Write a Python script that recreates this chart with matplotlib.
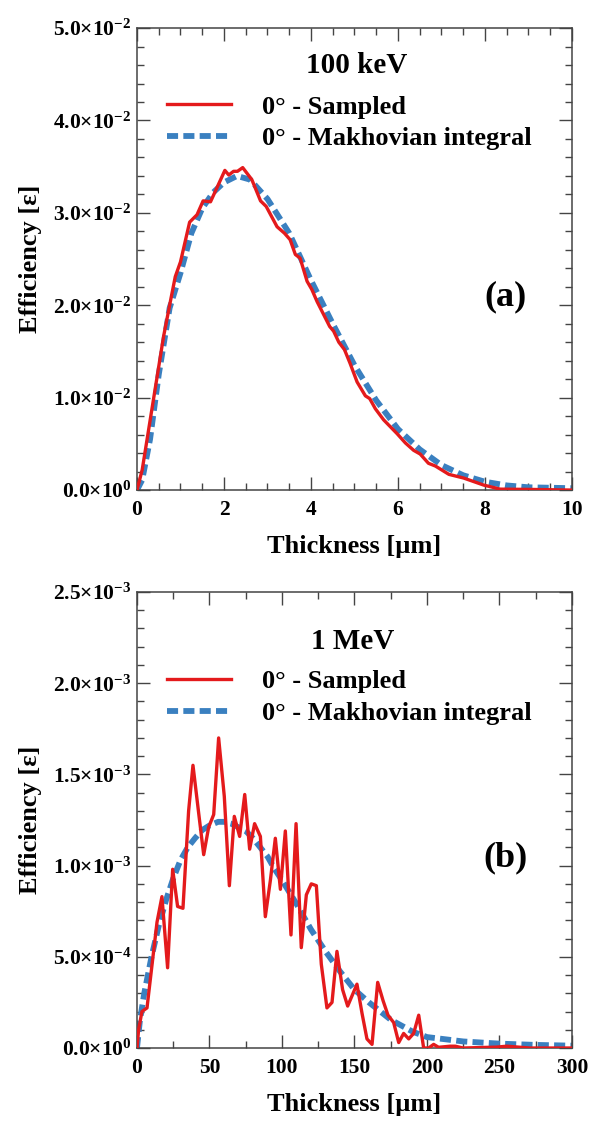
import numpy as np
import matplotlib
matplotlib.use("Agg")
import matplotlib.pyplot as plt
from matplotlib.ticker import MultipleLocator, FuncFormatter

plt.rcParams['font.family'] = ['Liberation Serif', 'DejaVu Serif']
plt.rcParams['font.weight'] = 'bold'
plt.rcParams['mathtext.default'] = 'regular'

# ---- data: 100 keV (efficiency in units of 1e-2) ----
x_a_sampled = [0.0, 0.12, 0.3, 0.61, 0.75, 0.88, 1.0, 1.21, 1.38, 1.52, 1.69, 2.02, 2.11,
               2.22, 2.31, 2.43, 2.64, 2.84, 2.97, 3.22, 3.39, 3.52, 3.64, 3.75, 3.91,
               4.02, 4.14, 4.43, 4.52, 4.64, 4.77, 4.90, 5.06, 5.25, 5.35, 5.48, 5.67,
               5.98, 6.17, 6.36, 6.51, 6.70, 6.86, 7.17, 7.51, 7.97, 8.35, 9.04, 10.0]
y_a_sampled = [0.0, 0.22, 0.75, 1.66, 2.0, 2.31, 2.47, 2.90, 2.98, 3.13, 3.12, 3.46, 3.41,
               3.45, 3.45, 3.49, 3.36, 3.13, 3.07, 2.85, 2.78, 2.71, 2.55, 2.51, 2.26,
               2.17, 2.04, 1.77, 1.72, 1.60, 1.52, 1.37, 1.17, 1.02, 0.99, 0.88, 0.76,
               0.61, 0.51, 0.43, 0.39, 0.29, 0.26, 0.17, 0.13, 0.054, 0.01, 0.007, 0.0]
x_a_integral = [0.0, 0.12, 0.3, 0.5, 0.75, 1.0, 1.25, 1.5, 1.75, 2.0, 2.3, 2.6, 3.0, 3.5,
                4.0, 4.5, 5.0, 5.5, 6.0, 6.5, 7.0, 7.5, 8.0, 8.5, 9.0, 9.5, 10.0]
y_a_integral = [0.0, 0.11, 0.55, 1.25, 1.97, 2.35, 2.78, 3.05, 3.22, 3.33, 3.40, 3.36, 3.15,
                2.78, 2.27, 1.80, 1.35, 0.97, 0.66, 0.44, 0.27, 0.16, 0.09, 0.05, 0.03,
                0.025, 0.02]

# ---- data: 1 MeV (efficiency in units of 1e-3) ----
x_b_sampled = [0, 1.1, 3.4, 6.9, 13.8, 17.2, 21.1, 24.6, 28.0, 31.7, 35.6, 38.6, 42.5, 46.0,
               49.4, 52.9, 56.3, 60.2, 63.7, 67.1, 70.8, 74.3, 77.7, 81.1, 85.1, 88.5,
               92.0, 95.4, 98.9, 102.3, 106.2, 109.7, 113.3, 116.8, 120.2, 123.7, 127.1,
               131.0, 134.5, 137.9, 141.8, 145.3, 151.7, 155.2, 158.6, 162.1, 166.0, 169.7,
               173.1, 177.0, 180.5, 183.9, 187.4, 190.8, 194.3, 197.7, 201.1, 204.6, 208.0,
               216.0, 219.5, 225.0, 248.0, 255.0, 271.0, 300.0]
y_b_sampled = [0, 0.10, 0.20, 0.22, 0.69, 0.83, 0.44, 0.98, 0.776, 0.766, 1.30, 1.55, 1.29,
               1.06, 1.21, 1.28, 1.70, 1.38, 0.89, 1.27, 1.16, 1.39, 1.09, 1.23, 1.16, 0.72,
               0.92, 1.15, 0.87, 1.19, 0.62, 1.23, 0.55, 0.84, 0.90, 0.89, 0.46, 0.22, 0.25,
               0.53, 0.32, 0.23, 0.35, 0.19, 0.05, 0.02, 0.36, 0.26, 0.18, 0.14, 0.03, 0.08,
               0.05, 0.08, 0.18, 0.0, 0.0, 0.02, 0.004, 0.01, 0.01, 0.0, 0.005, 0.01, 0.0, 0.0]
x_b_integral = [0, 2, 5, 10, 15, 20, 25, 30, 35, 40, 45, 50, 56, 60, 65, 70, 75, 80, 85, 90,
                95, 100, 110, 120, 130, 140, 150, 160, 175, 190, 200, 225, 250, 275, 300]
y_b_integral = [0, 0.15, 0.30, 0.50, 0.67, 0.81, 0.93, 1.03, 1.10, 1.15, 1.195, 1.22, 1.24,
                1.24, 1.23, 1.21, 1.19, 1.15, 1.10, 1.05, 0.98, 0.92, 0.79, 0.65, 0.53, 0.42,
                0.32, 0.25, 0.155, 0.09, 0.06, 0.036, 0.024, 0.017, 0.013]

RED = '#e41a1c'
BLUE = '#3a80c0'


def sci_fmt(v, pos):
    if abs(v) < 1e-12:
        return r'0.0$\times$10$^{0}$'
    e = int(np.floor(np.log10(abs(v)) + 1e-9))
    m = v / 10 ** e
    return r'%.1f$\times$10$^{%d}$' % (m, e)


def style_axes(ax, xmax, xmajor, xminor, ymax, ymajor, yminor):
    ax.set_xlim(0, xmax)
    ax.set_ylim(0, ymax)
    ax.xaxis.set_major_locator(MultipleLocator(xmajor))
    ax.xaxis.set_minor_locator(MultipleLocator(xminor))
    ax.yaxis.set_major_locator(MultipleLocator(ymajor))
    ax.yaxis.set_minor_locator(MultipleLocator(yminor))
    ax.yaxis.set_major_formatter(FuncFormatter(sci_fmt))
    ax.tick_params(which='both', direction='in', top=True, right=True,
                   color='#444444', width=1.0, labelsize=15.5)
    ax.tick_params(which='major', length=9.5)
    ax.tick_params(which='minor', length=5)
    ax.tick_params(axis='x', pad=7)
    ax.tick_params(axis='y', pad=4)
    for s in ax.spines.values():
        s.set_color('#444444')
        s.set_linewidth(1.1)
    ax.set_xlabel('Thickness [µm]', fontsize=19, fontweight='bold', labelpad=11)
    ax.set_ylabel('Efficiency [ε]', fontsize=19, fontweight='bold', labelpad=8)


fig = plt.figure(figsize=(5.89, 11.24), dpi=100)
ax1 = fig.add_axes([0.2326, 0.564, 0.7385, 0.411])
ax2 = fig.add_axes([0.2326, 0.0676, 0.7385, 0.4057])

panels = [
    (ax1, x_a_sampled, np.array(y_a_sampled) * 1e-2, x_a_integral, np.array(y_a_integral) * 1e-2,
     '100 keV', '(a)', (10, 2, 0.5, 5e-2, 1e-2, 2e-3), 0.506, 0.918),
    (ax2, x_b_sampled, np.array(y_b_sampled) * 1e-3, x_b_integral, np.array(y_b_integral) * 1e-3,
     '1 MeV', '(b)', (300, 50, 25, 2.5e-3, 5e-4, 1e-4), 0.495, 0.892),
]

for ax, xs, ys, xi, yi, title, tag, lims, tx, ty in panels:
    ax.plot(xi, yi, color=BLUE, lw=4.2, ls=(0, (1.9, 0.9)), label='0° - Makhovian integral', zorder=2)
    ax.plot(xs, ys, color=RED, lw=2.4, label='0° - Sampled', zorder=3)
    style_axes(ax, *lims)
    ax.text(tx, ty, title, transform=ax.transAxes, ha='center', va='center',
            fontsize=21, fontweight='bold')
    ax.text(0.848, 0.418, tag, transform=ax.transAxes, ha='center', va='center',
            fontsize=26, fontweight='bold')
    handles, labels = ax.get_legend_handles_labels()
    ax.legend(handles[::-1], labels[::-1], loc='upper left', bbox_to_anchor=(0.07, ty - 0.063),
              frameon=False, fontsize=19, handlelength=2.4, handletextpad=1.2,
              labelspacing=0.3, borderpad=0, borderaxespad=0)

fig.savefig('out.png', dpi=100)
